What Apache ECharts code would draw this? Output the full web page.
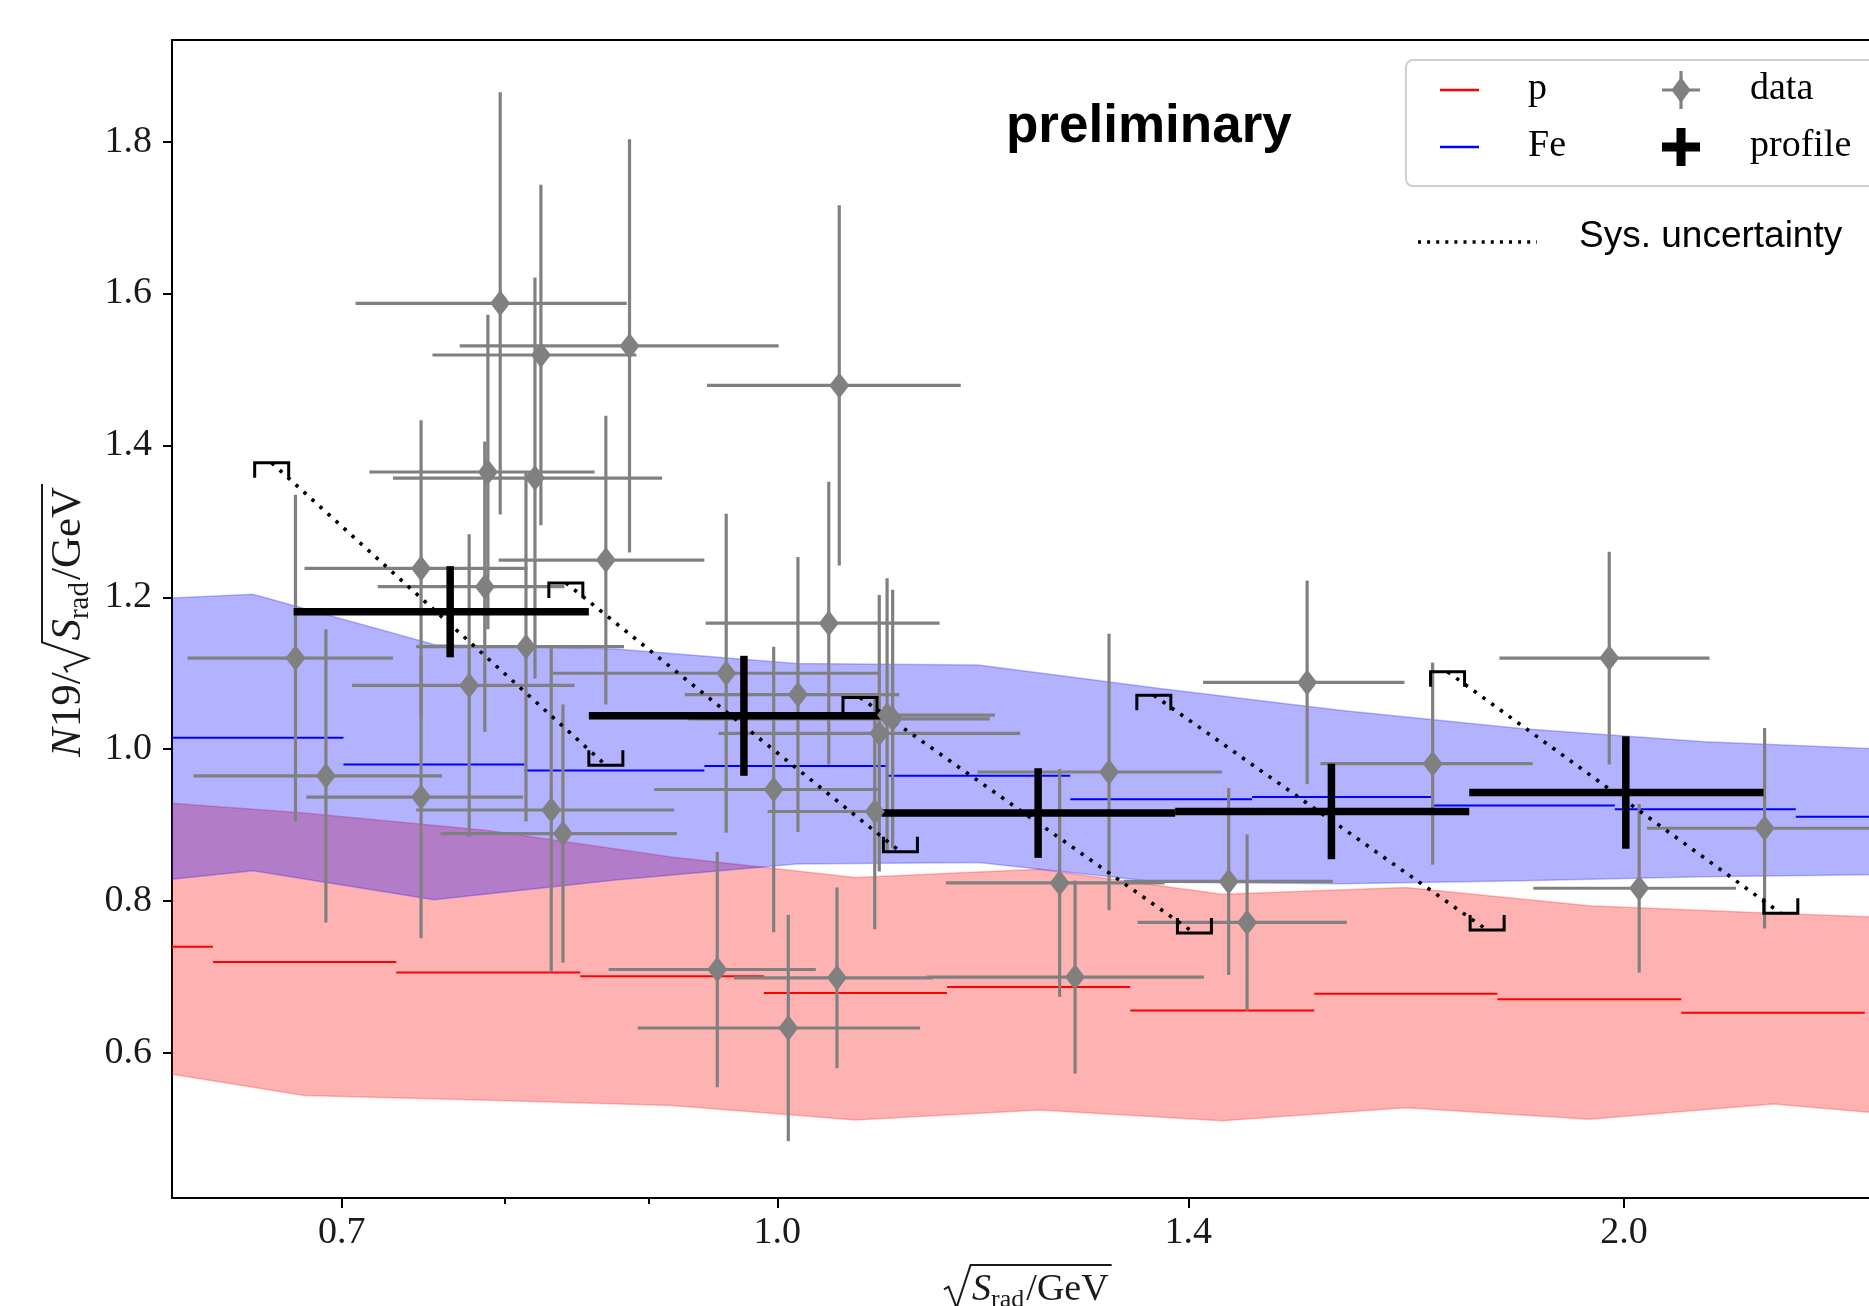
<!DOCTYPE html>
<html>
<head>
<meta charset="utf-8">
<title>N19 / sqrt(S_rad) vs sqrt(S_rad)</title>
<script src="https://cdn.jsdelivr.net/npm/echarts@6/dist/echarts.min.js"></script>
<style>
  html, body { margin: 0; padding: 0; background: #fff; }
  #main { width: 1869px; height: 1306px; }
</style>
</head>
<body>
<div id="main"></div>
<script>
// ---- values (x is sqrt(S_rad)/GeV, log axis) ----
var xTicks = [0.7, 1.0, 1.4, 2.0];
var xMinorTicks = [0.8, 0.9];
var yTicks = [0.6, 0.8, 1.0, 1.2, 1.4, 1.6, 1.8];

// model bands, vertices at bin centres
var feBandX  = [0.561, 0.651, 0.755, 0.876, 1.016, 1.179, 1.368, 1.588, 1.842, 2.137, 2.480, 2.877];
var feBandHi = [1.193, 1.204, 1.138, 1.132, 1.113, 1.111, 1.080, 1.051, 1.027, 1.010, 1.000, 0.995];
var feBandLo = [0.815, 0.840, 0.802, 0.828, 0.849, 0.851, 0.825, 0.823, 0.827, 0.832, 0.835, 0.836];
var pBandX  = [0.584, 0.679, 0.789, 0.917, 1.066, 1.239, 1.439, 1.673, 1.944, 2.260, 2.626];
var pBandHi = [0.934, 0.916, 0.893, 0.858, 0.831, 0.842, 0.809, 0.818, 0.794, 0.784, 0.775];
var pBandLo = [0.583, 0.544, 0.538, 0.531, 0.512, 0.525, 0.511, 0.528, 0.513, 0.533, 0.512];

// model medians, one flat segment per bin
var feEdges  = [0.604, 0.701, 0.813, 0.942, 1.094, 1.271, 1.475, 1.708, 1.985, 2.302, 2.670];
var feMedian = [1.015, 0.980, 0.972, 0.978, 0.965, 0.934, 0.937, 0.926, 0.921, 0.911];
var pEdges  = [0.543, 0.630, 0.732, 0.851, 0.989, 1.149, 1.335, 1.552, 1.803, 2.096, 2.436];
var pMedian = [0.740, 0.720, 0.706, 0.701, 0.679, 0.687, 0.656, 0.678, 0.671, 0.653];

// data points with x bin range and symmetric y error
var dataX    = [0.674, 0.691, 0.747, 0.747, 0.777, 0.787, 0.789, 0.797, 0.814, 0.820, 0.824, 0.831, 0.839, 0.869, 0.886, 0.952, 0.959, 0.997, 1.009, 1.017, 1.050, 1.043, 1.052, 1.087, 1.083, 1.094, 1.099, 1.260, 1.276, 1.312, 1.447, 1.469, 1.543, 1.710, 1.976, 2.025, 2.244];
var dataY    = [1.120, 0.965, 1.238, 0.937, 1.084, 1.214, 1.365, 1.587, 1.135, 1.357, 1.519, 0.920, 0.889, 1.249, 1.531, 0.710, 1.100, 0.947, 0.633, 1.072, 0.699, 1.166, 1.479, 1.021, 0.918, 1.045, 1.040, 0.824, 0.700, 0.970, 0.826, 0.772, 1.088, 0.981, 1.120, 0.817, 0.896];
var dataXlo  = [0.617, 0.620, 0.679, 0.680, 0.706, 0.721, 0.716, 0.708, 0.744, 0.730, 0.754, 0.744, 0.759, 0.796, 0.771, 0.871, 0.832, 0.904, 0.892, 0.927, 0.965, 0.943, 0.944, 0.953, 0.992, 0.928, 0.930, 1.148, 1.130, 1.178, 1.328, 1.343, 1.417, 1.560, 1.806, 1.857, 2.038];
var dataXhi  = [0.730, 0.760, 0.815, 0.812, 0.847, 0.840, 0.861, 0.884, 0.882, 0.910, 0.891, 0.919, 0.921, 0.942, 1.001, 1.032, 1.086, 1.088, 1.124, 1.105, 1.136, 1.142, 1.162, 1.220, 1.183, 1.195, 1.190, 1.373, 1.418, 1.439, 1.576, 1.594, 1.671, 1.856, 2.145, 2.192, 2.470];
var dataYerr = [0.215, 0.193, 0.195, 0.186, 0.199, 0.191, 0.207, 0.278, 0.230, 0.264, 0.224, 0.213, 0.170, 0.190, 0.272, 0.155, 0.210, 0.188, 0.149, 0.181, 0.119, 0.186, 0.237, 0.182, 0.155, 0.180, 0.170, 0.150, 0.127, 0.182, 0.123, 0.116, 0.134, 0.133, 0.140, 0.111, 0.132];

// profile
var profX    = [0.765, 0.973, 1.238, 1.574, 2.003];
var profY    = [1.181, 1.044, 0.916, 0.918, 0.943];
var profXlo  = [0.673, 0.857, 1.089, 1.385, 1.762];
var profXhi  = [0.857, 1.089, 1.385, 1.762, 2.242];
var profYerr = [0.060, 0.079, 0.059, 0.063, 0.074];

// systematic uncertainty, dotted line from upper to lower end
var sysX1 = [0.661, 0.841, 1.070, 1.361, 1.731];
var sysY1 = [1.377, 1.219, 1.068, 1.071, 1.102];
var sysX2 = [0.869, 1.106, 1.407, 1.788, 2.274];
var sysY2 = [0.979, 0.865, 0.758, 0.762, 0.784];

var X_MIN = 0.6092, X_MAX = 2.4846, Y_MIN = 0.4092, Y_MAX = 1.9337;
var SERIF = '"Liberation Serif", "Times New Roman", serif';
var SANS = '"Liberation Sans", Arial, sans-serif';
var GREY = '#808080';
var INK = '#1a1a1a';

var chart = echarts.init(document.getElementById('main'));

function bandSeries(name, xs, hi, lo, fill, edge) {
  return {
    name: name, type: 'custom', clip: true, silent: true,
    data: xs.map(function (x, i) { return [x, hi[i], lo[i]]; }),
    encode: { x: 0, y: [1, 2] },
    renderItem: function (params, api) {
      if (params.dataIndex !== 0) return null;
      var pts = [];
      for (var i = 0; i < xs.length; i++) pts.push(api.coord([xs[i], hi[i]]));
      for (var j = xs.length - 1; j >= 0; j--) pts.push(api.coord([xs[j], lo[j]]));
      return { type: 'polygon', shape: { points: pts },
               style: { fill: fill, stroke: edge, lineWidth: 1.5 } };
    }
  };
}

function stepSeries(name, edges, vals, color) {
  var rows = vals.map(function (v, i) {
    return [Math.max(edges[i], X_MIN), Math.min(edges[i + 1], X_MAX), v];
  });
  return {
    name: name, type: 'custom', clip: true, silent: true,
    data: rows, encode: { x: [0, 1], y: 2 },
    renderItem: function (params, api) {
      var a = api.coord([api.value(0), api.value(2)]);
      var b = api.coord([api.value(1), api.value(2)]);
      return { type: 'line', shape: { x1: a[0], y1: a[1], x2: b[0], y2: b[1] },
               style: { stroke: color, lineWidth: 2 } };
    }
  };
}

function crossSeries(name, xs, ys, xlo, xhi, yerr, color, width) {
  var rows = xs.map(function (x, i) {
    return [x, ys[i], xlo[i], xhi[i], ys[i] - yerr[i], ys[i] + yerr[i]];
  });
  return {
    name: name, type: 'custom', clip: true, silent: true,
    data: rows, encode: { x: [0, 2, 3], y: [1, 4, 5] },
    renderItem: function (params, api) {
      var x = api.value(0), y = api.value(1);
      var a = api.coord([api.value(2), y]), b = api.coord([api.value(3), y]);
      var c = api.coord([x, api.value(4)]), d = api.coord([x, api.value(5)]);
      return { type: 'group', children: [
        { type: 'line', shape: { x1: a[0], y1: a[1], x2: b[0], y2: b[1] }, style: { stroke: color, lineWidth: width } },
        { type: 'line', shape: { x1: c[0], y1: c[1], x2: d[0], y2: d[1] }, style: { stroke: color, lineWidth: width } }
      ] };
    }
  };
}

var sysSeries = {
  name: 'Sys. uncertainty', type: 'custom', clip: true, silent: true,
  data: sysX1.map(function (x, i) { return [x, sysY1[i], sysX2[i], sysY2[i]]; }),
  encode: { x: [0, 2], y: [1, 3] },
  renderItem: function (params, api) {
    var p = api.coord([api.value(0), api.value(1)]);
    var q = api.coord([api.value(2), api.value(3)]);
    var w = 17, h = 15;
    return { type: 'group', children: [
      { type: 'line', shape: { x1: p[0], y1: p[1], x2: q[0], y2: q[1] },
        style: { stroke: '#000', lineWidth: 3.6, lineDash: [3.4, 7.4], lineCap: 'butt' } },
      { type: 'polyline', shape: { points: [[p[0] - w, p[1] + h], [p[0] - w, p[1]], [p[0] + w, p[1]], [p[0] + w, p[1] + h]] },
        style: { stroke: '#000', lineWidth: 3, fill: null } },
      { type: 'polyline', shape: { points: [[q[0] - w, q[1] - h], [q[0] - w, q[1]], [q[0] + w, q[1]], [q[0] + w, q[1] - h]] },
        style: { stroke: '#000', lineWidth: 3, fill: null } }
    ] };
  }
};

// axis titles with sqrt and subscript, built from measured text widths
var measure = document.createElement('canvas').getContext('2d');
function textWidth(t, font) { measure.font = font; return measure.measureText(t).width; }

function mathName(pieces, size, subSize, subDrop, radAt, radH) {
  var kids = [], x = 0, radX = 0;
  pieces.forEach(function (p, i) {
    if (i === radAt) { radX = x; x += size * 0.74; }
    var fs = p.sub ? subSize : size;
    var font = (p.it ? 'italic ' : '') + fs + 'px ' + SERIF;
    var base = p.sub ? subDrop : 0;
    kids.push({ type: 'text', x: x, y: base - 0.3375 * fs,
      style: { text: p.t, font: font, fill: INK, textAlign: 'left', textVerticalAlign: 'middle', align: 'left', verticalAlign: 'middle' } });
    x += textWidth(p.t, font) + (p.gap || 0);
  });
  kids.push({ type: 'polyline',
    shape: { points: [[radX, -0.36 * size], [radX + 0.12 * size, -0.43 * size], [radX + 0.33 * size, 0.12 * size], [radX + 0.7 * size, -radH], [x + 3, -radH]] },
    style: { stroke: INK, lineWidth: 2, fill: null } });
  return kids;
}

function txt(text, x, y, font) {
  return { type: 'text', x: x, y: y, z: 100,
    style: { text: text, font: font, fill: '#000', textAlign: 'left', textVerticalAlign: 'middle', align: 'left', verticalAlign: 'middle' } };
}
function seg(x1, y1, x2, y2, color, width, dash) {
  var st = { stroke: color, lineWidth: width };
  if (dash) { st.lineDash = dash; st.lineCap = 'butt'; }
  return { type: 'line', z: 100, shape: { x1: x1, y1: y1, x2: x2, y2: y2 }, style: st };
}

var graphics = [
  { type: 'rect', z: 99, shape: { x: 1406, y: 60, width: 520, height: 126, r: 7 },
    style: { fill: 'rgba(255,255,255,0.85)', stroke: '#cfcfcf', lineWidth: 2 } },
  seg(1440, 90, 1479, 90, '#ff0000', 2.5),
  seg(1440, 147, 1479, 147, '#0000ff', 2.5),
  txt('p', 1528, 89, '38px ' + SERIF),
  txt('Fe', 1528, 146, '38px ' + SERIF),
  seg(1662, 90, 1700, 90, GREY, 3.2),
  seg(1681, 71, 1681, 109, GREY, 3.2),
  { type: 'polygon', z: 100, shape: { points: [[1681, 77], [1690.5, 90], [1681, 103], [1671.5, 90]] }, style: { fill: GREY } },
  seg(1662, 147, 1700, 147, '#000', 9),
  seg(1681, 128, 1681, 166, '#000', 9),
  txt('data', 1750, 89, '38px ' + SERIF),
  txt('profile', 1750, 146, '38px ' + SERIF),
  seg(1418, 242, 1537, 242, '#000', 3.4, [3, 6.1]),
  txt('Sys. uncertainty', 1579, 237, '37px ' + SANS),
  txt('preliminary', 1006, 127, 'bold 53px ' + SANS),
  { type: 'group', x: 944, y: 1303, z: 100,
    children: mathName([{ t: 'S', it: true }, { t: 'rad', sub: true, gap: 2 }, { t: '/GeV' }], 38, 26, 6, 0, 38) },
  { type: 'group', x: 83, y: 757, rotation: Math.PI / 2, z: 100,
    children: mathName([{ t: 'N', it: true, gap: 1 }, { t: '19/' }, { t: 'S', it: true }, { t: 'rad', sub: true, gap: 2 }, { t: '/GeV' }], 43, 29, 7, 2, 41) }
];

var axisLineStyle = { color: '#000', width: 2 };

var option = {
  animation: false,
  backgroundColor: '#fff',
  grid: { left: 172, top: 40, right: -20, bottom: 108, containLabel: false, outerBoundsMode: 'none' },
  xAxis: [
    { type: 'log', logBase: 10, min: X_MIN, max: X_MAX, position: 'bottom',
      axisLine: { show: true, onZero: false, lineStyle: axisLineStyle },
      axisTick: { show: true, customValues: xTicks, length: 10, lineStyle: { color: '#000', width: 2 } },
      minorTick: { show: false },
      axisLabel: { show: true, customValues: xTicks, margin: 16, color: INK, fontSize: 38, fontFamily: SERIF,
                   formatter: function (v) { return Number(v).toFixed(1); } },
      splitLine: { show: false } },
    { type: 'log', logBase: 10, min: X_MIN, max: X_MAX, position: 'bottom',
      axisLine: { show: false, onZero: false },
      axisTick: { show: true, customValues: xMinorTicks, length: 6, lineStyle: { color: '#000', width: 2 } },
      minorTick: { show: false },
      axisLabel: { show: false },
      splitLine: { show: false } },
    { type: 'log', logBase: 10, min: X_MIN, max: X_MAX, position: 'top',
      axisLine: { show: true, onZero: false, lineStyle: axisLineStyle },
      axisTick: { show: false }, axisLabel: { show: false }, splitLine: { show: false } }
  ],
  yAxis: [
    { type: 'value', min: Y_MIN, max: Y_MAX, position: 'left',
      axisLine: { show: true, onZero: false, lineStyle: axisLineStyle },
      axisTick: { show: true, customValues: yTicks, length: 9, lineStyle: { color: '#000', width: 2 } },
      axisLabel: { show: true, customValues: yTicks, margin: 20, color: INK, fontSize: 38, fontFamily: SERIF,
                   formatter: function (v) { return Number(v).toFixed(1); } },
      splitLine: { show: false } }
  ],
  series: [
    bandSeries('p band', pBandX, pBandHi, pBandLo, 'rgba(255,0,0,0.3)', 'rgba(255,0,0,0.25)'),
    bandSeries('Fe band', feBandX, feBandHi, feBandLo, 'rgba(0,0,255,0.3)', 'rgba(0,0,255,0.25)'),
    stepSeries('p', pEdges, pMedian, '#ff0000'),
    stepSeries('Fe', feEdges, feMedian, '#0000ff'),
    crossSeries('data errors', dataX, dataY, dataXlo, dataXhi, dataYerr, GREY, 3.2),
    { name: 'data', type: 'scatter', silent: true,
      data: dataX.map(function (x, i) { return [x, dataY[i]]; }),
      symbol: 'diamond', symbolSize: [20, 26],
      itemStyle: { color: GREY, opacity: 1 } },
    crossSeries('profile', profX, profY, profXlo, profXhi, profYerr, '#000', 7.5),
    sysSeries
  ],
  graphic: { elements: graphics }
};

chart.setOption(option);
</script>
</body>
</html>
